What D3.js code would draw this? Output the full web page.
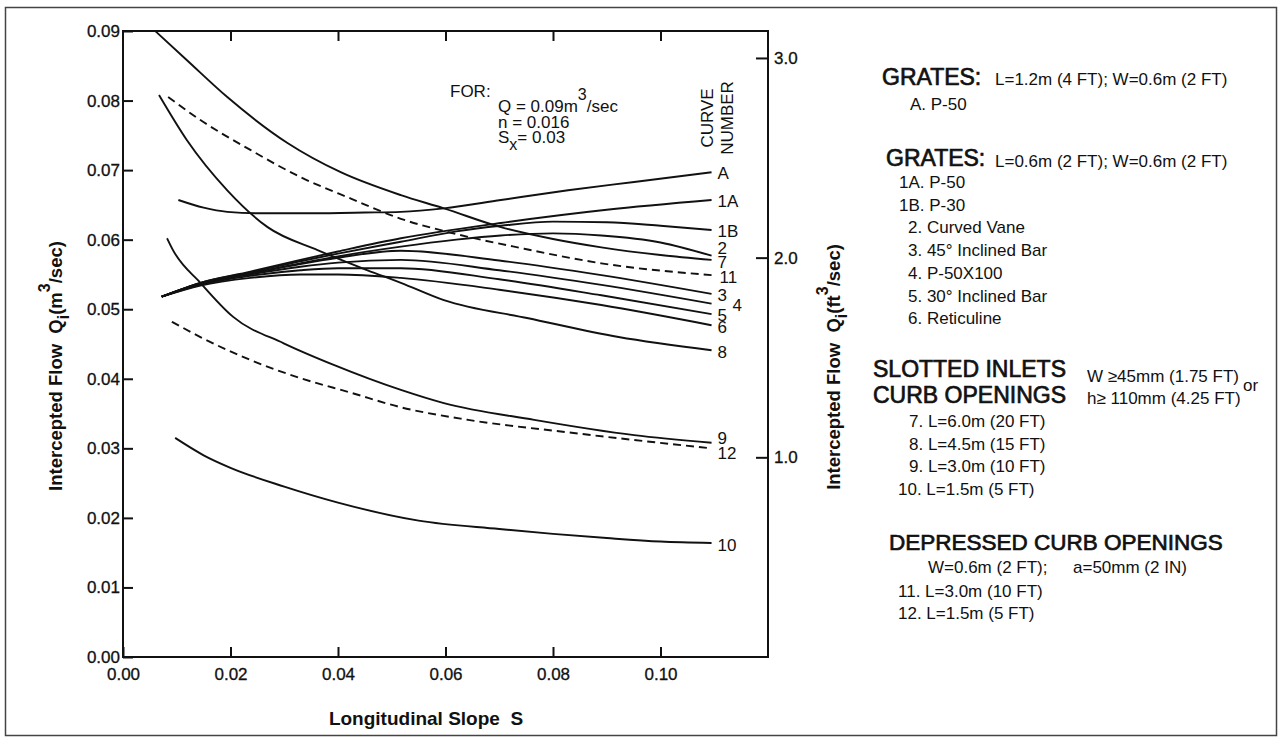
<!DOCTYPE html>
<html>
<head>
<meta charset="utf-8">
<script src="https://cdn.jsdelivr.net/npm/d3@7"></script>
<style>
  body { margin: 0; background: #fff; }
  svg text { font-family: "Liberation Sans", Arial, sans-serif; fill: #111; white-space: pre; }
</style>
</head>
<body>
<div id="chart"></div>
<script>
// curve data: [longitudinal slope S, intercepted flow Qi (m3/s)]
var curveA  = [[0.0103,0.0657],[0.015,0.0646],[0.0194,0.0640],[0.025,0.0638],[0.035,0.0638],[0.045,0.0639],[0.0517,0.0640],[0.0597,0.0645],[0.0703,0.0657],[0.0828,0.0671],[0.0951,0.0683],[0.1095,0.0697]]
var curve1A = [[0.0072,0.0518],[0.0144,0.0538],[0.0237,0.0554],[0.033,0.0571],[0.040,0.0583],[0.0517,0.0602],[0.0703,0.0624],[0.090,0.0643],[0.1095,0.0657]]
var curve1B = [[0.0072,0.0518],[0.0144,0.0538],[0.0237,0.0553],[0.033,0.0569],[0.040,0.0580],[0.0517,0.0597],[0.062,0.0612],[0.0703,0.0620],[0.080,0.0626],[0.090,0.0625],[0.100,0.0620],[0.1095,0.0614]]
var curve2  = [[0.0072,0.0518],[0.0144,0.0537],[0.0237,0.0552],[0.033,0.0566],[0.040,0.0576],[0.0517,0.0590],[0.062,0.0600],[0.0703,0.0606],[0.080,0.0609],[0.089,0.0606],[0.100,0.0596],[0.1095,0.0577]]
var curve3  = [[0.0072,0.0518],[0.0144,0.0537],[0.0237,0.0551],[0.033,0.0565],[0.040,0.0574],[0.0517,0.0584],[0.070,0.0570],[0.089,0.0549],[0.1095,0.0522]]
var curve4  = [[0.0072,0.0518],[0.0144,0.0536],[0.0237,0.0550],[0.033,0.0561],[0.040,0.0567],[0.0517,0.0571],[0.070,0.0556],[0.089,0.0535],[0.1095,0.0508]]
var curve5  = [[0.0072,0.0518],[0.0144,0.0535],[0.0237,0.0548],[0.033,0.0556],[0.040,0.0559],[0.0517,0.0559],[0.070,0.0543],[0.089,0.0520],[0.1095,0.0493]]
var curve6  = [[0.0072,0.0518],[0.0144,0.0534],[0.0237,0.0545],[0.033,0.0550],[0.040,0.0550],[0.0517,0.0545],[0.070,0.0528],[0.089,0.0506],[0.1095,0.0477]]
var curve7  = [[0.0060,0.0900],[0.0119,0.0858],[0.0194,0.0805],[0.0306,0.0739],[0.0405,0.0697],[0.0517,0.0664],[0.0597,0.0645],[0.0703,0.0618],[0.080,0.0601],[0.089,0.0589],[0.100,0.0578],[0.1095,0.0571]]
var curve8  = [[0.0067,0.0808],[0.0119,0.0743],[0.0194,0.0671],[0.0269,0.0618],[0.0362,0.0585],[0.0455,0.0556],[0.0517,0.0538],[0.0597,0.0513],[0.0754,0.0487],[0.0922,0.0460],[0.1095,0.0441]]
var curve9  = [[0.0082,0.0602],[0.0093,0.0585],[0.0144,0.0538],[0.0205,0.0489],[0.0299,0.0451],[0.0392,0.0420],[0.0517,0.0384],[0.0597,0.0365],[0.0765,0.0341],[0.0951,0.0319],[0.1095,0.0308]]
var curve10 = [[0.0097,0.0315],[0.015,0.0290],[0.020,0.0272],[0.030,0.0245],[0.040,0.0222],[0.055,0.0196],[0.070,0.0184],[0.080,0.0177],[0.090,0.0171],[0.100,0.0166],[0.1095,0.0164]]
var curve11 = [[0.0084,0.0805],[0.0144,0.0772],[0.0237,0.0729],[0.033,0.0690],[0.0424,0.0659],[0.0517,0.0630],[0.061,0.0610],[0.074,0.0588],[0.089,0.0566],[0.1095,0.0549]]
var curve12 = [[0.0091,0.0482],[0.0144,0.0460],[0.0237,0.0427],[0.033,0.0401],[0.0424,0.0380],[0.0517,0.0359],[0.0642,0.0341],[0.0828,0.0323],[0.0951,0.0312],[0.1095,0.0300]]

var curveNames = ["A", "1A", "1B", "2", "3", "4", "5", "6", "7", "8", "9", "10", "11", "12"]
var curveData = [curveA, curve1A, curve1B, curve2, curve3, curve4, curve5, curve6, curve7, curve8, curve9, curve10, curve11, curve12]
var dashedCurves = ["11", "12"]

var slopeTicks = [0, 0.02, 0.04, 0.06, 0.08, 0.10]
var flowTicks = [0, 0.01, 0.02, 0.03, 0.04, 0.05, 0.06, 0.07, 0.08, 0.09]
var cfsTicks = [1.0, 2.0, 3.0]

// legend text
var grates1Spec = "L=1.2m (4 FT); W=0.6m (2 FT)"
var grates1Items = ["A. P-50"]
var grates2Spec = "L=0.6m (2 FT); W=0.6m (2 FT)"
var grates2Items = ["1A. P-50", "1B. P-30", "2. Curved Vane", "3. 45° Inclined Bar", "4. P-50X100", "5. 30° Inclined Bar", "6. Reticuline"]
var slottedItems = ["7. L=6.0m (20 FT)", "8. L=4.5m (15 FT)", "9. L=3.0m (10 FT)", "10. L=1.5m (5 FT)"]
var depressedItems = ["11. L=3.0m (10 FT)", "12. L=1.5m (5 FT)"]

var width = 1281
var height = 740

var svg = d3.select("#chart")
    .append("svg")
    .attr("width", width)
    .attr("height", height)

// outer frame
svg.append("rect").attr("x", 5.5).attr("y", 7.5).attr("width", 1271).attr("height", 728)
    .attr("fill", "none").attr("stroke", "#444").attr("stroke-width", 1.5)

var x = d3.scaleLinear().domain([0, 0.12]).range([123, 768])
var y = d3.scaleLinear().domain([0, 0.09]).range([657, 31])
var yR = d3.scaleLinear().domain([0, 3.135]).range([657, 31])

function styleAxis(g) {
    g.select(".domain").remove()
    g.selectAll("line").attr("stroke", "#111").attr("stroke-width", 2)
    g.attr("font-family", "Liberation Sans, Arial, sans-serif").attr("font-size", 17)
    g.selectAll("text").style("stroke", "#111").style("stroke-width", 0.3)
}

svg.append("g").attr("transform", "translate(0,657)")
    .call(d3.axisBottom(x).tickValues(slopeTicks).tickSize(-10).tickPadding(11).tickFormat(d3.format(".2f")))
    .call(styleAxis)
svg.append("g").attr("transform", "translate(0,31)")
    .call(d3.axisTop(x).tickValues(slopeTicks.slice(1)).tickSize(-10).tickFormat(""))
    .call(styleAxis)
svg.append("g").attr("transform", "translate(123,0)")
    .call(d3.axisLeft(y).tickValues(flowTicks).tickSize(-10).tickPadding(3).tickFormat(d3.format(".2f")))
    .call(styleAxis)
svg.append("g").attr("transform", "translate(768,0)")
    .call(d3.axisRight(yR).tickValues(cfsTicks).tickSize(-12).tickPadding(6).tickFormat(d3.format(".1f")))
    .call(styleAxis)

// plot frame
svg.append("rect").attr("x", 123).attr("y", 31).attr("width", 645).attr("height", 626)
    .attr("fill", "none").attr("stroke", "#111").attr("stroke-width", 2)

// curves
var line = d3.line()
    .x(function (d) { return x(d[0]) })
    .y(function (d) { return y(d[1]) })
    .curve(d3.curveMonotoneX)

svg.append("g").selectAll("path")
    .data(curveData)
    .enter()
    .append("path")
    .attr("d", line)
    .attr("fill", "none")
    .attr("stroke", "#111")
    .attr("stroke-width", 1.9)
    .attr("stroke-dasharray", function (d, i) { return dashedCurves.indexOf(curveNames[i]) >= 0 ? "8,5" : null })

// curve number labels at the right end of each curve
var nudge = { "2": [0, -8], "7": [0, 2], "4": [15, 1], "9": [0, -5], "12": [0, 5], "11": [2, 2], "6": [0, 2], "8": [0, 2], "10": [0, 2] }
svg.append("g").selectAll("text")
    .data(curveData)
    .enter()
    .append("text")
    .attr("x", function (d, i) { var n = nudge[curveNames[i]] || [0, 1]; return x(d[d.length - 1][0]) + 6 + n[0] })
    .attr("y", function (d, i) { var n = nudge[curveNames[i]] || [0, 1]; return y(d[d.length - 1][1]) + n[1] })
    .attr("dy", "0.36em")
    .style("font-size", "17px")
    .text(function (d, i) { return curveNames[i] })

// "CURVE NUMBER" heading
svg.append("text").attr("transform", "translate(713,118) rotate(-90)").attr("text-anchor", "middle")
    .style("font-size", "17px").text("CURVE")
svg.append("text").attr("transform", "translate(733,118) rotate(-90)").attr("text-anchor", "middle")
    .style("font-size", "17px").text("NUMBER")

// design conditions
svg.append("text").attr("x", 450).attr("y", 97).style("font-size", "17px").text("FOR:")
var q = svg.append("text").attr("x", 498).attr("y", 112).style("font-size", "17px")
q.append("tspan").text("Q = 0.09m")
q.append("tspan").attr("dy", -12).style("font-size", "16px").text("3")
q.append("tspan").attr("dy", 12).text("/sec")
svg.append("text").attr("x", 498).attr("y", 128).style("font-size", "17px").text("n = 0.016")
var sx = svg.append("text").attr("x", 498).attr("y", 143).style("font-size", "17px")
sx.append("tspan").text("S")
sx.append("tspan").attr("dy", 7).style("font-size", "16px").text("x")
sx.append("tspan").attr("dy", -7).text("= 0.03")

// axis titles
svg.append("text").attr("x", 426).attr("y", 725).attr("text-anchor", "middle")
    .style("font-size", "19px").style("font-weight", "bold").text("Longitudinal Slope  S")

function flowTitle(xPos, yPos, unit) {
    var t = svg.append("text").attr("transform", "translate(" + xPos + "," + yPos + ") rotate(-90)")
        .attr("text-anchor", "middle").style("font-size", "18.5px").style("font-weight", "bold")
    t.append("tspan").text("Intercepted Flow  Q")
    t.append("tspan").attr("dy", 7).style("font-size", "16px").text("i")
    t.append("tspan").attr("dy", -7).text("(" + unit)
    t.append("tspan").attr("dy", -12).style("font-size", "16px").text("3")
    t.append("tspan").attr("dy", 12).text("/sec)")
}
flowTitle(62, 366, "m")
flowTitle(840, 367, "ft")

// legend
function heading(xPos, yPos, txt) {
    svg.append("text").attr("x", xPos).attr("y", yPos).style("font-size", "23px")
        .style("stroke", "#111").style("stroke-width", 0.7).text(txt)
}
function body(xPos, yPos, txt) {
    svg.append("text").attr("x", xPos).attr("y", yPos).style("font-size", "17px").text(txt)
}

heading(882, 85, "GRATES:")
body(995, 85, grates1Spec)
grates1Items.forEach(function (t, i) { body(910, 110 + i * 22.7, t) })

heading(886, 166, "GRATES:")
body(995, 167, grates2Spec)
grates2Items.forEach(function (t, i) { body(i < 2 ? 899 : 908, 188 + i * 22.7, t) })

heading(873, 377, "SLOTTED INLETS")
heading(873, 403, "CURB OPENINGS")
body(1087, 382, "W ≥45mm (1.75 FT)")
body(1087, 404, "h≥ 110mm (4.25 FT)")
body(1243, 391, "or")
slottedItems.forEach(function (t, i) { body(i < 3 ? 909 : 898, 427 + i * 22.7, t) })

svg.append("text").attr("x", 889).attr("y", 550).style("font-size", "22.5px")
    .style("stroke", "#111").style("stroke-width", 0.7).text("DEPRESSED CURB OPENINGS")
body(928, 573, "W=0.6m (2 FT);")
body(1073, 573, "a=50mm (2 IN)")
depressedItems.forEach(function (t, i) { body(898, 597 + i * 21.5, t) })
</script>
</body>
</html>
